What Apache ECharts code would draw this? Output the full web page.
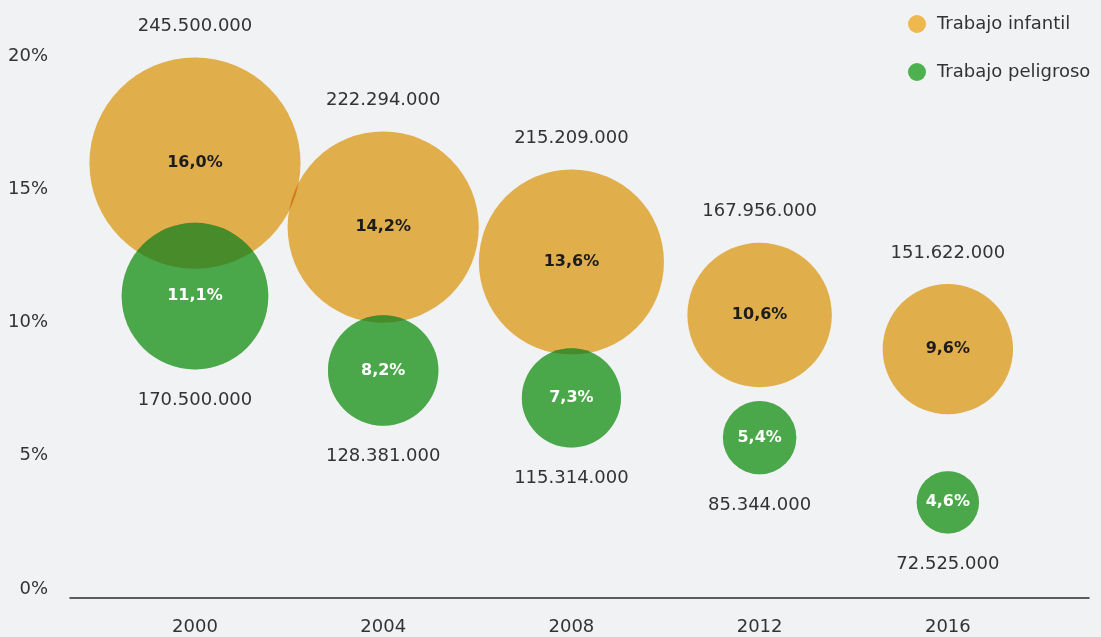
<!DOCTYPE html>
<html>
<head>
<meta charset="utf-8">
<script src="https://cdn.jsdelivr.net/npm/echarts@6/dist/echarts.min.js"></script>
<style>
html,body{margin:0;padding:0;background:#f1f2f4;}
#main{width:1101px;height:637px;}
</style>
</head>
<body>
<div id="main"></div>
<script>
// ---- data ----
var years = [2000, 2004, 2008, 2012, 2016];
var seriesNames = ['Trabajo infantil', 'Trabajo peligroso'];
// vertical position of each bubble on the % axis (as drawn)
var infantilPos = [15.98, 13.58, 12.27, 10.28, 9.0];
var peligrosoPos = [10.99, 8.2, 7.17, 5.68, 3.25];
// printed percentages
var infantilPct = [16.0, 14.2, 13.6, 10.6, 9.6];
var peligrosoPct = [11.1, 8.2, 7.3, 5.4, 4.6];
// number of children
var infantilTotal = [245500000, 222294000, 215209000, 167956000, 151622000];
var peligrosoTotal = [170500000, 128381000, 115314000, 85344000, 72525000];
// axis ticks
var yTicks = [0, 5, 10, 15, 20];

// ---- helpers ----
function fmtPct(v) { return v.toFixed(1).replace('.', ',') + '%'; }
function fmtNum(v) { return String(v).replace(/\B(?=(\d{3})+(?!\d))/g, '.'); }
function build(pos, pct, total) {
  return years.map(function (y, i) { return [y, pos[i], total[i], pct[i]]; });
}
var dInf = build(infantilPos, infantilPct, infantilTotal);
var dPel = build(peligrosoPos, peligrosoPct, peligrosoTotal);
var sizeOf = function (v) { return v[2] / 1e6 * 0.86; };

var FONT = 'DejaVu Sans';
var ORANGE = '#efb84f';
var GREEN = '#4eb14d';
var GREEN_TOP = '#4aa84a';

function bubble(name, data, color, blend, opacity, z) {
  return {
    name: name, type: 'scatter', data: data, symbolSize: sizeOf,
    itemStyle: { color: color, opacity: opacity },
    blendMode: blend, clip: false, silent: true, z: z,
    label: { show: false }, emphasis: { disabled: true }
  };
}
function labels(id, data, position, color, bold, fmt) {
  return {
    name: id, type: 'scatter', data: data, symbolSize: sizeOf,
    itemStyle: { color: 'rgba(0,0,0,0)', opacity: 1 }, clip: false, silent: true, z: 5,
    emphasis: { disabled: true },
    label: {
      show: true, position: position, distance: 22,
      fontFamily: FONT, fontSize: bold ? 16 : 18, fontWeight: bold ? 'bold' : 'normal',
      color: color, formatter: function (p) { return fmt(p.value); }
    }
  };
}

var chart = echarts.init(document.getElementById('main'), null, { renderer: 'canvas' });
chart.setOption({
  backgroundColor: '#f1f2f4',
  animation: false,
  textStyle: { fontFamily: FONT },
  legend: {
    data: seriesNames, orient: 'vertical', left: 908, top: 15,
    icon: 'circle', itemWidth: 30, itemHeight: 18, itemGap: 30, padding: 0,
    textStyle: { fontFamily: FONT, fontSize: 18, color: '#333' },
    selectedMode: false
  },
  grid: { left: 70, right: 12, top: 56, bottom: 39, containLabel: false, outerBoundsMode: 'none' },
  xAxis: {
    type: 'value', min: 1997.344, max: 2019,
    axisLine: { show: true, onZero: false, lineStyle: { color: '#2b2b2b', width: 1.5 } },
    axisTick: { show: false }, splitLine: { show: false },
    axisLabel: {
      customValues: years, margin: 20, fontFamily: FONT, fontSize: 18, color: '#333',
      formatter: function (v) { return String(v); }
    }
  },
  yAxis: {
    type: 'value', min: -0.34, max: 20,
    axisLine: { show: false }, axisTick: { show: false }, splitLine: { show: false },
    axisLabel: {
      customValues: yTicks, margin: 22, fontFamily: FONT, fontSize: 18, color: '#333',
      formatter: function (v) { return v + '%'; }
    }
  },
  series: [
    bubble(seriesNames[0], dInf, ORANGE, 'multiply', 1, 2),
    bubble(seriesNames[1], dPel, GREEN, 'multiply', 1, 2),
    bubble('pelTop', dPel, GREEN_TOP, 'source-over', 0.4, 3),
    labels('infPct', dInf, 'inside', '#1c1c1c', true, function (v) { return fmtPct(v[3]); }),
    labels('pelPct', dPel, 'inside', '#ffffff', true, function (v) { return fmtPct(v[3]); }),
    labels('infTot', dInf, 'top', '#333', false, function (v) { return fmtNum(v[2]); }),
    labels('pelTot', dPel, 'bottom', '#333', false, function (v) { return fmtNum(v[2]); })
  ]
});
</script>
</body>
</html>
